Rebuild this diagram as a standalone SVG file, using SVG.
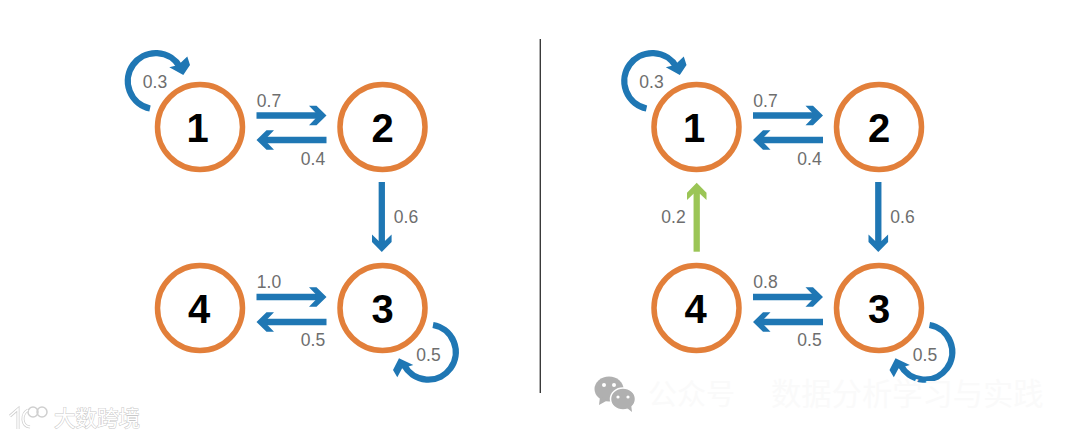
<svg xmlns="http://www.w3.org/2000/svg" width="1080" height="438" viewBox="0 0 1080 438">
<style>
.node{fill:#fff;stroke:#e27f3a;stroke-width:5.5}
.num{font:bold 40px "Liberation Sans",Arial,sans-serif;fill:#000;text-anchor:middle}
.lab{font:17.5px "Liberation Sans",Arial,sans-serif;fill:#6e6e6e;text-anchor:middle}
.ln{fill:none;stroke:#1f77b4;stroke-width:6.3}
.hd{fill:#1f77b4}
.wm{font:29px "Noto Sans CJK SC",sans-serif;fill:#fafafa}
.wm2{font:30.300px "Noto Sans CJK SC",sans-serif;fill:#fafafa}
</style>
<defs>
<polygon id="hr" points="-17.500,-9.800 -10,-9.800 0,0 -10,9.800 -17.500,9.800 -11,3.100 -11,-3.100"/>
<polygon id="hl" points="17.500,-9.800 10,-9.800 0,0 10,9.800 17.500,9.800 11,3.100 11,-3.100"/>
<polygon id="hd" points="-9.800,-17.500 -9.800,-10 0,0 9.800,-10 9.800,-17.500 3.100,-11 -3.100,-11"/>
<g id="arrows">
<path class="ln" d="M256.500 115.500H318M326.500 140H265M381.800 182V244M256.500 297H318M326.500 322H265"/>
<use href="#hr" class="hd" x="326.500" y="115.500"/>
<use href="#hl" class="hd" x="256.500" y="140"/>
<use href="#hd" class="hd" x="381.800" y="252"/>
<use href="#hr" class="hd" x="326.500" y="297"/>
<use href="#hl" class="hd" x="256.500" y="322"/>
<path class="ln" d="M150 108.500A28 28 0 1 1 180 67"/>
<polygon class="hd" points="187.300,56.500 190,65 183.300,75 169.300,67.300 178.300,65"/>
<path class="ln" d="M433 325A27.500 27.500 0 1 1 404 365"/>
<polygon class="hd" points="393,370 397.300,377.300 402,368.500 413.300,365 399,358.300"/>
</g>
</defs>
<rect width="1080" height="438" fill="#fff"/>
<line x1="540.300" y1="39" x2="540.300" y2="393" stroke="#3a3a3a" stroke-width="1.400"/>
<g id="connectors">
<use href="#arrows"/>
<use href="#arrows" x="496.500"/>
<path fill="none" stroke="#9bc556" stroke-width="6.300" d="M696.700 251.700V192"/>
<polygon fill="#9bc556" points="696.700,182.700 706.500,192.700 706.500,200 699.800,193.700 693.600,193.700 687,200 687,192.700"/>
</g>
<g id="left-n1"><circle class="node" cx="200" cy="127" r="42.500"/><text class="num" x="197.500" y="141.500">1</text></g>
<g id="left-n2"><circle class="node" cx="382.500" cy="127" r="42.500"/><text class="num" x="382.500" y="141.500">2</text></g>
<g id="left-n3"><circle class="node" cx="382.500" cy="308" r="42.500"/><text class="num" x="382.500" y="322.500">3</text></g>
<g id="left-n4"><circle class="node" cx="200" cy="308" r="42.500"/><text class="num" x="199" y="322.500">4</text></g>
<g id="right-n1"><circle class="node" cx="696.500" cy="127" r="42.500"/><text class="num" x="694" y="141.500">1</text></g>
<g id="right-n2"><circle class="node" cx="879" cy="127" r="42.500"/><text class="num" x="879" y="141.500">2</text></g>
<g id="right-n3"><circle class="node" cx="879" cy="308" r="42.500"/><text class="num" x="879" y="322.500">3</text></g>
<g id="right-n4"><circle class="node" cx="696.500" cy="308" r="42.500"/><text class="num" x="695.500" y="322.500">4</text></g>
<g id="labels">
<text class="lab" x="155" y="88">0.3</text><text class="lab" x="269" y="106.500">0.7</text><text class="lab" x="313" y="164.500">0.4</text><text class="lab" x="406" y="222.500">0.6</text><text class="lab" x="269" y="288">1.0</text><text class="lab" x="313" y="346">0.5</text><text class="lab" x="428.500" y="361">0.5</text>
<text class="lab" x="651.500" y="88">0.3</text><text class="lab" x="765.500" y="106.500">0.7</text><text class="lab" x="809.500" y="164.500">0.4</text><text class="lab" x="902.500" y="222.500">0.6</text><text class="lab" x="765.500" y="288">0.8</text><text class="lab" x="809.500" y="346">0.5</text><text class="lab" x="925" y="361">0.5</text><text class="lab" x="673.500" y="222.500">0.2</text>
</g>
<g id="watermarks">
<ellipse cx="609" cy="389" rx="14.500" ry="12.500" fill="#b0b0b0"/><polygon points="600,397 599,405 608,400" fill="#b0b0b0"/>
<ellipse cx="623" cy="399" rx="12.500" ry="11" fill="#b0b0b0" stroke="#fff" stroke-width="1.500"/><polygon points="627,408 632,412 631,404" fill="#b0b0b0"/>
<circle cx="604" cy="385" r="2" fill="#fff"/><circle cx="614" cy="385" r="2" fill="#fff"/><circle cx="618" cy="397" r="1.600" fill="#fff"/><circle cx="628" cy="397" r="1.600" fill="#fff"/>
<text class="wm" x="648" y="405">公众号</text>
<text class="wm2" x="771" y="405">数据分析学习与实践</text>
<text x="54" y="426" font-family="'Noto Sans CJK SC',sans-serif" font-size="21.500" fill="#fff" stroke="#c8c8c8" stroke-width="1" paint-order="stroke">大数跨境</text>
<g fill="none" stroke-width="3" stroke="#cfcfcf"><path d="M10 416L18 409V429M28 410C21 414 21 426 30 427"/><circle cx="33" cy="412" r="5" stroke-width="1.500"/><circle cx="42" cy="412" r="5" stroke-width="1.500"/></g>
<g fill="none" stroke-width="1.500" stroke="#fff"><path d="M10 416L18 409V429M28 410C21 414 21 426 30 427"/></g>
</g>
</svg>
